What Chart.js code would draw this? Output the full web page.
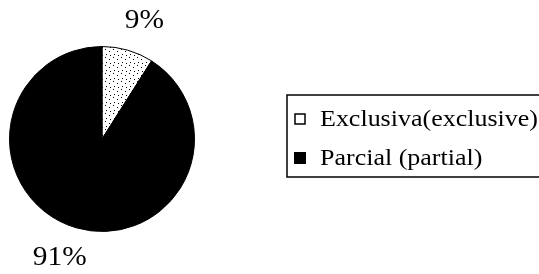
<!DOCTYPE html>
<html>
<head>
<meta charset="utf-8">
<script src="https://cdn.jsdelivr.net/npm/chart.js@4"></script>
<style>
  html, body { margin: 0; padding: 0; background: #fff; }
  #wrap { width: 539px; height: 274px; position: relative; }
</style>
</head>
<body>
<div id="wrap"><canvas id="myChart"></canvas></div>
<script>
// data
var categories = ["Exclusiva(exclusive)", "Parcial (partial)"];
var shares = [9, 91];
var pctLabels = ["9%", "91%"];

var FONT = "'Liberation Serif', 'Times New Roman', serif";

// sparse speckle for the small slice (looks like the scanned hatching)
function speckle()
{
    var c = document.createElement("canvas");
    c.width = 8; c.height = 8;
    var g = c.getContext("2d");
    g.fillStyle = "#fff";
    g.fillRect(0, 0, 8, 8);
    g.fillStyle = "#000";
    g.fillRect(1, 1, 1, 1);
    g.fillRect(5, 3, 1, 1);
    g.fillRect(2, 6, 1, 1);
    g.fillRect(6, 7, 1, 1);
    return g.createPattern(c, "repeat");
}

// scanned text is a bit wider than the font
function wideText(ctx, txt, x, y, sx)
{
    ctx.save();
    ctx.translate(x, y);
    ctx.scale(sx, 1);
    ctx.fillText(txt, 0, 0);
    ctx.restore();
}

var pctPlugin = {
    id: "pctLabels",
    afterDatasetsDraw(chart) {
        var ctx = chart.ctx;
        var meta = chart.getDatasetMeta(0);
        ctx.save();
        ctx.fillStyle = "#000";
        ctx.font = "28px " + FONT;
        ctx.textAlign = "center";
        ctx.textBaseline = "middle";
        meta.data.forEach(function(arc, i) {
            var mid = (arc.startAngle + arc.endAngle) / 2 + 0.06;
            var r = arc.outerRadius * 1.36;
            wideText(ctx, pctLabels[i], arc.x + Math.cos(mid) * r, arc.y + Math.sin(mid) * r, 1.05);
        });
        ctx.restore();
    }
};

var boxLegend = {
    id: "boxLegend",
    afterDraw(chart) {
        var ctx = chart.ctx;
        var x0 = 287, y0 = 95, w = 260, h = 82;
        ctx.save();
        ctx.strokeStyle = "#000";
        ctx.lineWidth = 1.5;
        ctx.strokeRect(x0, y0, w, h);
        ctx.font = "23px " + FONT;
        ctx.textBaseline = "middle";
        categories.forEach(function(name, i) {
            var cy = y0 + 24 + i * 39;
            if (i == 0) {
                ctx.fillStyle = "#fff";
                ctx.fillRect(295, cy - 5, 10, 10);
                ctx.lineWidth = 1.5;
                ctx.strokeRect(295, cy - 5, 10, 10);
            } else {
                ctx.fillStyle = "#000";
                ctx.fillRect(294, cy - 6, 12, 12);
            }
            ctx.fillStyle = "#000";
            wideText(ctx, name, 320, cy + 1, 1.13);
        });
        ctx.restore();
    }
};

var ctx = document.getElementById("myChart");
var chart = new Chart(ctx, {
    type: "pie",
    data: {
        labels: categories,
        datasets: [{
            data: shares,
            backgroundColor: [speckle(), "#000"],
            borderColor: "#000",
            borderWidth: 1
        }]
    },
    options: {
        responsive: true,
        maintainAspectRatio: false,
        animation: false,
        layout: { padding: { left: 9, right: 344, top: 46, bottom: 42 } },
        plugins: {
            legend: { display: false },
            tooltip: { enabled: false }
        }
    },
    plugins: [pctPlugin, boxLegend]
});
</script>
</body>
</html>
